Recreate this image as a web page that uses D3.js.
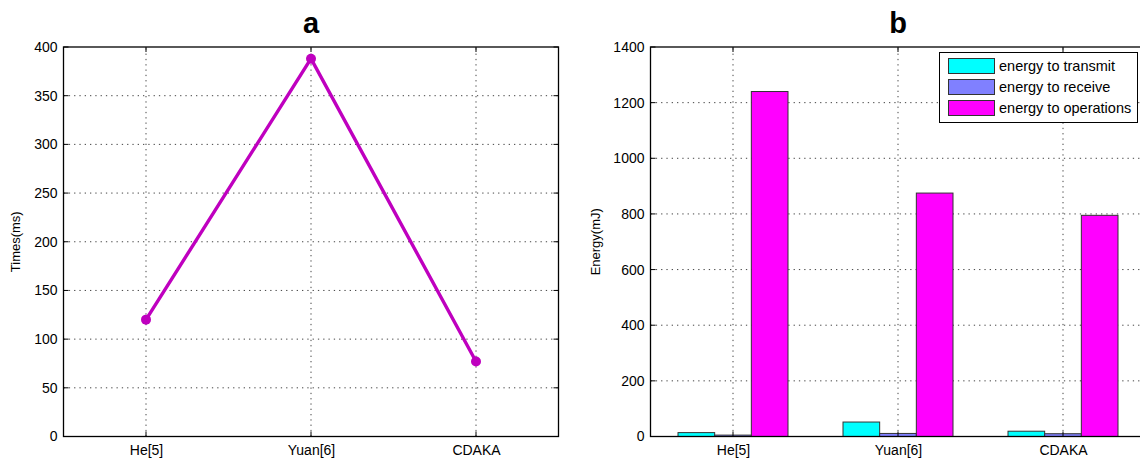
<!DOCTYPE html>
<html><head><meta charset="utf-8">
<script src="https://cdn.jsdelivr.net/npm/d3@7"></script>
<style>
html,body{margin:0;padding:0;background:#fff;}
svg{display:block;font-family:"Liberation Sans",Arial,Helvetica,sans-serif;}
</style></head>
<body>
<svg id="chart" width="1140" height="461"></svg>
<script>
// ---- data ----
const categories = ["He[5]", "Yuan[6]", "CDAKA"];
const timesMs = [120, 388, 77];
const energyTransmit = [14, 52, 19];
const energyReceive = [5, 11, 10];
const energyOperations = [1240, 875, 795];
const seriesNames = ["energy to transmit", "energy to receive", "energy to operations"];
const seriesColors = ["#00ffff", "#8080ff", "#ff00ff"];
const timeTicks = [0, 50, 100, 150, 200, 250, 300, 350, 400];
const energyTicks = [0, 200, 400, 600, 800, 1000, 1200, 1400];

const svg = d3.select("#chart");
const gridColor = "#444";

function frame(g, x, y, xTicks, yTicks) {
  const [x0, x1] = x.range();
  const [y0, y1] = y.range();
  g.selectAll(".vg").data(xTicks).join("line")
    .attr("x1", d => x(d)).attr("x2", d => x(d)).attr("y1", y0).attr("y2", y1)
    .attr("stroke", gridColor).attr("stroke-width", 1).attr("stroke-dasharray", "1.3,4");
  g.selectAll(".hg").data(yTicks.filter(d => d !== y.domain()[0] && d !== y.domain()[1])).join("line")
    .attr("x1", x0).attr("x2", x1).attr("y1", d => y(d)).attr("y2", d => y(d))
    .attr("stroke", gridColor).attr("stroke-width", 1).attr("stroke-dasharray", "1.3,4");
}

function axesOverlay(g, x, y, xTicks, yTicks) {
  const [x0, x1] = x.range();
  const [y0, y1] = y.range();
  g.selectAll(".tb").data(xTicks).join("line")
    .attr("x1", d => x(d)).attr("x2", d => x(d)).attr("y1", y0).attr("y2", y0 - 5)
    .attr("stroke", "#000");
  g.selectAll(".tt").data(xTicks).join("line")
    .attr("x1", d => x(d)).attr("x2", d => x(d)).attr("y1", y1).attr("y2", y1 + 5)
    .attr("stroke", "#000");
  g.selectAll(".tl").data(yTicks).join("line")
    .attr("x1", x0).attr("x2", x0 + 5).attr("y1", d => y(d)).attr("y2", d => y(d))
    .attr("stroke", "#000");
  g.selectAll(".tr").data(yTicks).join("line")
    .attr("x1", x1).attr("x2", x1 - 5).attr("y1", d => y(d)).attr("y2", d => y(d))
    .attr("stroke", "#000");
  g.append("rect").attr("x", x0).attr("y", y1).attr("width", x1 - x0).attr("height", y0 - y1)
    .attr("fill", "none").attr("stroke", "#000").attr("stroke-width", 1.3);
  const ax = g.append("g").attr("transform", `translate(0,${y0})`)
    .call(d3.axisBottom(x).tickValues(xTicks).tickFormat((d, i) => categories[i]).tickSize(0).tickPadding(9));
  ax.select(".domain").remove();
  ax.selectAll("text").attr("font-size", 14).attr("fill", "#000").attr("font-family", "Liberation Sans, Arial, sans-serif");
  const ay = g.append("g").attr("transform", `translate(${x0},0)`)
    .call(d3.axisLeft(y).tickValues(yTicks).tickFormat(d3.format("d")).tickSize(0).tickPadding(6));
  ay.select(".domain").remove();
  ay.selectAll("text").attr("font-size", 14).attr("fill", "#000").attr("font-family", "Liberation Sans, Arial, sans-serif");
}

// ---------- chart a ----------
const xa = d3.scaleLinear().domain([0.5, 3.5]).range([63.5, 558.5]);
const ya = d3.scaleLinear().domain([0, 400]).range([436.5, 47]);
const ga = svg.append("g");
const idx = categories.map((c, i) => i + 1);
frame(ga, xa, ya, idx, timeTicks);
ga.append("path")
  .datum(timesMs)
  .attr("d", d3.line().x((d, i) => xa(i + 1)).y(d => ya(d)))
  .attr("fill", "none").attr("stroke", "#bf00bf").attr("stroke-width", 3.4).attr("stroke-linejoin", "miter");
ga.selectAll(".pt").data(timesMs).join("circle")
  .attr("cx", (d, i) => xa(i + 1)).attr("cy", d => ya(d)).attr("r", 5).attr("fill", "#bf00bf");
axesOverlay(ga, xa, ya, idx, timeTicks);
ga.append("text").attr("x", xa(2)).attr("y", 33).attr("text-anchor", "middle")
  .attr("font-size", 29).attr("font-weight", "bold").text("a");
ga.append("text").attr("transform", `translate(20,${(ya.range()[0] + ya.range()[1]) / 2}) rotate(-90)`)
  .attr("text-anchor", "middle").attr("font-size", 13).text("Times(ms)");

// ---------- chart b ----------
const xb = d3.scaleLinear().domain([0.5, 3.5]).range([650.5, 1145.5]);
const yb = d3.scaleLinear().domain([0, 1400]).range([436.5, 47]);
const gb = svg.append("g");
frame(gb, xb, yb, idx, energyTicks);
const series = [energyTransmit, energyReceive, energyOperations];
const barW = 2 / 9;
series.forEach((vals, s) => {
  gb.selectAll(".bar" + s).data(vals).join("rect")
    .attr("x", (d, i) => xb(i + 1 + (s - 1) * barW - barW / 2))
    .attr("width", (d, i) => xb(i + 1 + (s - 1) * barW + barW / 2) - xb(i + 1 + (s - 1) * barW - barW / 2))
    .attr("y", d => yb(d))
    .attr("height", d => yb(0) - yb(d))
    .attr("fill", seriesColors[s]).attr("stroke", "#333").attr("stroke-width", 1);
});
axesOverlay(gb, xb, yb, idx, energyTicks);
gb.append("text").attr("x", 898).attr("y", 33).attr("text-anchor", "middle")
  .attr("font-size", 29).attr("font-weight", "bold").text("b");
gb.append("text").attr("transform", `translate(600,${(yb.range()[0] + yb.range()[1]) / 2}) rotate(-90)`)
  .attr("text-anchor", "middle").attr("font-size", 13).text("Energy(mJ)");

// legend
const lg = gb.append("g");
lg.append("rect").attr("x", 939.5).attr("y", 52.5).attr("width", 198).attr("height", 70)
  .attr("fill", "#fff").attr("stroke", "#000").attr("stroke-width", 1);
seriesNames.forEach((name, s) => {
  const yy = 58 + s * 21;
  lg.append("rect").attr("x", 948.5).attr("y", yy + 0.5).attr("width", 46).attr("height", 15)
    .attr("fill", seriesColors[s]).attr("stroke", "#333");
  lg.append("text").attr("x", 999).attr("y", yy + 13).attr("font-size", 14.5).text(name);
});
</script>
</body></html>
